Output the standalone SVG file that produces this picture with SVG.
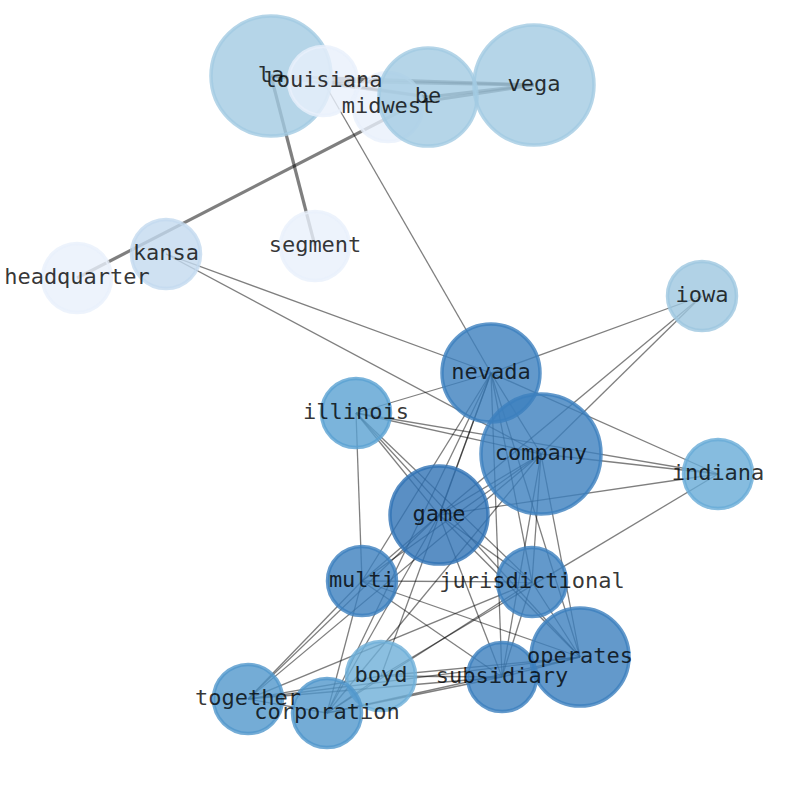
<svg xmlns="http://www.w3.org/2000/svg" width="794" height="790" viewBox="0 0 794 790">
<style>
  .e { stroke: #000; stroke-opacity: 0.5; stroke-width: 1.3; fill: none; }
  .ew { stroke: #000; stroke-opacity: 0.5; stroke-width: 3.2; fill: none; }
  .n circle { fill-opacity: 0.8; stroke-opacity: 0.8; stroke-width: 3.5; }
  .lbl text { font-family: "DejaVu Sans Mono", "Liberation Mono", monospace; font-size: 22px; text-anchor: middle; fill: #000; fill-opacity: 0.8; }
  .c0 { fill: #e8f0fb; stroke: #e8f0fb; }
  .c1 { fill: #c3daef; stroke: #c3daef; }
  .c2 { fill: #a2cbe2; stroke: #a2cbe2; }
  .c3 { fill: #9dc7e0; stroke: #9dc7e0; }
  .c4 { fill: #6eafd8; stroke: #6eafd8; }
  .c5 { fill: #68abd7; stroke: #68abd7; }
  .c6 { fill: #5aa1d2; stroke: #5aa1d2; }
  .c7 { fill: #5197cc; stroke: #5197cc; }
  .c8 { fill: #3c7fbe; stroke: #3c7fbe; }
  .c9 { fill: #3173b5; stroke: #3173b5; }
</style>
<rect width="794" height="790" fill="#fff"/>
<g id="edges">
  <line class="ew" x1="271" y1="76" x2="534" y2="85"/>
  <line class="ew" x1="323" y1="81" x2="534" y2="85"/>
  <line class="ew" x1="323" y1="81" x2="428" y2="97"/>
  <line class="ew" x1="428" y1="97" x2="534" y2="85"/>
  <line class="ew" x1="388" y1="107" x2="534" y2="85"/>
  <line class="ew" x1="271" y1="76" x2="428" y2="97"/>
  <line class="ew" x1="271" y1="76" x2="315" y2="246"/>
  <line class="ew" x1="77" y1="278" x2="428" y2="97"/>
  <line class="e" x1="166" y1="254" x2="491" y2="373"/>
  <line class="e" x1="166" y1="254" x2="541" y2="454"/>
  <line class="e" x1="323" y1="81" x2="491" y2="373"/>
  <line class="e" x1="702" y1="296" x2="491" y2="373"/>
  <line class="e" x1="702" y1="296" x2="541" y2="454"/>
  <line class="e" x1="702" y1="296" x2="439" y2="515"/>
  <line class="e" x1="356" y1="413" x2="491" y2="373"/>
  <line class="e" x1="356" y1="413" x2="541" y2="454"/>
  <line class="e" x1="356" y1="413" x2="718" y2="474"/>
  <line class="e" x1="356" y1="413" x2="362" y2="581"/>
  <line class="e" x1="356" y1="413" x2="439" y2="515"/>
  <line class="e" x1="356" y1="413" x2="532" y2="582"/>
  <line class="e" x1="356" y1="413" x2="580" y2="657"/>
  <line class="e" x1="491" y1="373" x2="718" y2="474"/>
  <line class="e" x1="491" y1="373" x2="541" y2="454"/>
  <line class="e" x1="491" y1="373" x2="439" y2="515"/>
  <line class="e" x1="491" y1="373" x2="362" y2="581"/>
  <line class="e" x1="491" y1="373" x2="327" y2="713"/>
  <line class="e" x1="491" y1="373" x2="381" y2="676"/>
  <line class="e" x1="491" y1="373" x2="532" y2="582"/>
  <line class="e" x1="491" y1="373" x2="502" y2="677"/>
  <line class="e" x1="491" y1="373" x2="580" y2="657"/>
  <line class="e" x1="541" y1="454" x2="718" y2="474"/>
  <line class="e" x1="541" y1="454" x2="439" y2="515"/>
  <line class="e" x1="541" y1="454" x2="362" y2="581"/>
  <line class="e" x1="541" y1="454" x2="248" y2="699"/>
  <line class="e" x1="541" y1="454" x2="327" y2="713"/>
  <line class="e" x1="541" y1="454" x2="532" y2="582"/>
  <line class="e" x1="541" y1="454" x2="502" y2="677"/>
  <line class="e" x1="541" y1="454" x2="580" y2="657"/>
  <line class="e" x1="718" y1="474" x2="439" y2="515"/>
  <line class="e" x1="718" y1="474" x2="381" y2="676"/>
  <line class="e" x1="439" y1="515" x2="362" y2="581"/>
  <line class="e" x1="439" y1="515" x2="248" y2="699"/>
  <line class="e" x1="439" y1="515" x2="327" y2="713"/>
  <line class="e" x1="439" y1="515" x2="532" y2="582"/>
  <line class="e" x1="439" y1="515" x2="502" y2="677"/>
  <line class="e" x1="439" y1="515" x2="580" y2="657"/>
  <line class="e" x1="362" y1="581" x2="532" y2="582"/>
  <line class="e" x1="362" y1="581" x2="580" y2="657"/>
  <line class="e" x1="362" y1="581" x2="502" y2="677"/>
  <line class="e" x1="362" y1="581" x2="248" y2="699"/>
  <line class="e" x1="362" y1="581" x2="327" y2="713"/>
  <line class="e" x1="532" y1="582" x2="248" y2="699"/>
  <line class="e" x1="532" y1="582" x2="327" y2="713"/>
  <line class="e" x1="532" y1="582" x2="502" y2="677"/>
  <line class="e" x1="532" y1="582" x2="580" y2="657"/>
  <line class="e" x1="248" y1="699" x2="381" y2="676"/>
  <line class="e" x1="248" y1="699" x2="502" y2="677"/>
  <line class="e" x1="248" y1="699" x2="580" y2="657"/>
  <line class="e" x1="248" y1="699" x2="327" y2="713"/>
  <line class="e" x1="327" y1="713" x2="381" y2="676"/>
  <line class="e" x1="327" y1="713" x2="502" y2="677"/>
  <line class="e" x1="327" y1="713" x2="580" y2="657"/>
  <line class="e" x1="381" y1="676" x2="502" y2="677"/>
  <line class="e" x1="381" y1="676" x2="580" y2="657"/>
  <line class="e" x1="502" y1="677" x2="580" y2="657"/>
</g>
<g id="nodes" class="n">
  <g id="node-la"><circle class="c2" cx="271" cy="76" r="60"/></g>
  <g id="node-louisiana"><circle class="c0" cx="323" cy="81" r="34.5"/></g>
  <g id="node-midwest"><circle class="c0" cx="388" cy="107" r="34.5"/></g>
  <g id="node-be"><circle class="c2" cx="428" cy="97" r="49"/></g>
  <g id="node-vega"><circle class="c2" cx="534" cy="85" r="60"/></g>
  <g id="node-segment"><circle class="c0" cx="315" cy="246" r="34.5"/></g>
  <g id="node-kansa"><circle class="c1" cx="166" cy="254" r="34.5"/></g>
  <g id="node-headquarter"><circle class="c0" cx="77" cy="278" r="34.5"/></g>
  <g id="node-iowa"><circle class="c3" cx="702" cy="296" r="34.5"/></g>
  <g id="node-nevada"><circle class="c8" cx="491" cy="373" r="49"/></g>
  <g id="node-company"><circle class="c8" cx="541" cy="454" r="60"/></g>
  <g id="node-illinois"><circle class="c6" cx="356" cy="413" r="34.5"/></g>
  <g id="node-indiana"><circle class="c5" cx="718" cy="474" r="34.5"/></g>
  <g id="node-game"><circle class="c9" cx="439" cy="515" r="49"/></g>
  <g id="node-multi"><circle class="c8" cx="362" cy="581" r="34.5"/></g>
  <g id="node-jurisdictional"><circle class="c8" cx="532" cy="582" r="34.5"/></g>
  <g id="node-boyd"><circle class="c4" cx="381" cy="676" r="34.5"/></g>
  <g id="node-together"><circle class="c7" cx="248" cy="699" r="34.5"/></g>
  <g id="node-corporation"><circle class="c7" cx="327" cy="713" r="34.5"/></g>
  <g id="node-subsidiary"><circle class="c8" cx="502" cy="677" r="34.5"/></g>
  <g id="node-operates"><circle class="c8" cx="580" cy="657" r="49"/></g>
</g>
<g id="labels" class="lbl">
  <text id="label-la" x="271" y="82">la</text>
  <text id="label-louisiana" x="323" y="87">louisiana</text>
  <text id="label-midwest" x="388" y="113">midwest</text>
  <text id="label-be" x="428" y="103">be</text>
  <text id="label-vega" x="534" y="91">vega</text>
  <text id="label-segment" x="315" y="252">segment</text>
  <text id="label-kansa" x="166" y="260">kansa</text>
  <text id="label-headquarter" x="77" y="284">headquarter</text>
  <text id="label-iowa" x="702" y="302">iowa</text>
  <text id="label-nevada" x="491" y="379">nevada</text>
  <text id="label-company" x="541" y="460">company</text>
  <text id="label-illinois" x="356" y="419">illinois</text>
  <text id="label-indiana" x="718" y="480">indiana</text>
  <text id="label-game" x="439" y="521">game</text>
  <text id="label-multi" x="362" y="587">multi</text>
  <text id="label-jurisdictional" x="532" y="588">jurisdictional</text>
  <text id="label-boyd" x="381" y="682">boyd</text>
  <text id="label-together" x="248" y="705">together</text>
  <text id="label-corporation" x="327" y="719">corporation</text>
  <text id="label-subsidiary" x="502" y="683">subsidiary</text>
  <text id="label-operates" x="580" y="663">operates</text>
</g>
</svg>
